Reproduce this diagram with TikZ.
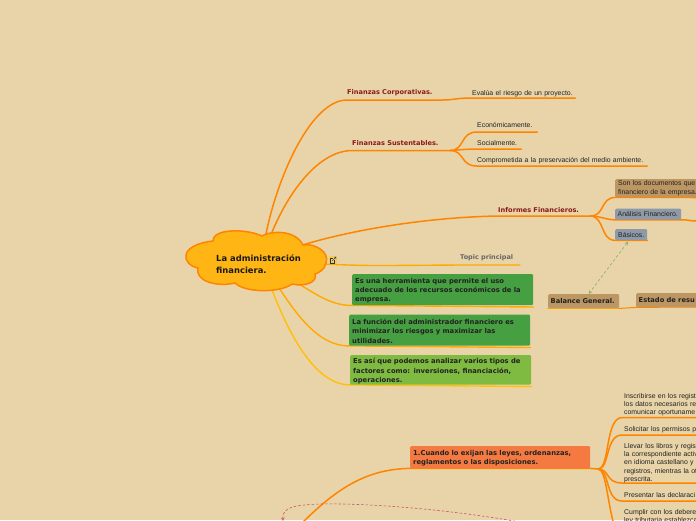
\documentclass[tikz,border=0pt]{standalone}
\usepackage{fontspec}
\setmainfont{Liberation Sans}
\newfontfamily\boxfont{DejaVu Sans}
\pgfdeclarelayer{bg}
\pgfsetlayers{bg,main}
\definecolor{paper}{HTML}{E8D4A8}
\definecolor{org}{HTML}{FF8500}
\definecolor{amber}{HTML}{FFAA00}
\definecolor{yel}{HTML}{FFC107}
\definecolor{cloudfill}{HTML}{FFB514}
\definecolor{titlered}{HTML}{8B1A1A}
\definecolor{inkc}{HTML}{222222}
\definecolor{grn}{HTML}{46A041}
\definecolor{lime}{HTML}{7FBB41}
\definecolor{tan}{HTML}{BC9663}
\definecolor{slate}{HTML}{8E9AA8}
\definecolor{coral}{HTML}{F47A42}
\definecolor{dashred}{HTML}{C9566B}
\definecolor{dashgreen}{HTML}{8FB56A}
\tikzset{
  x=1pt,y=-1pt,
  conn/.style={draw=org,line width=1.5pt,line cap=round},
  connam/.style={draw=amber,line width=1.4pt,line cap=round},
  connye/.style={draw=yel,line width=1.4pt,line cap=round},
  plainn/.style={anchor=south west,inner xsep=0pt,inner ysep=1.6pt,align=left,text=inkc,font=\fontsize{6.9}{8.2}\selectfont},
  heading/.style={anchor=south west,inner xsep=0pt,inner ysep=3.5pt,align=left,text=titlered,font=\boxfont\bfseries\fontsize{6.6}{9}\selectfont},
  colbox/.style={anchor=north west,rounded corners=1.2pt,inner xsep=3pt,inner ysep=0pt,align=left,text=inkc},
  bigbox/.style={colbox,font=\boxfont\bfseries\fontsize{6.8}{9.1}\selectfont,text height=7.5pt},
  smallbox/.style={colbox,font=\fontsize{6.9}{8.1}\selectfont},
  midbox/.style={colbox,inner xsep=2.5pt,font=\boxfont\bfseries\fontsize{6.7}{9}\selectfont}
}
\begin{document}
\begin{tikzpicture}
\useasboundingbox (0,0) rectangle (696,520);
\clip (0,0) rectangle (696,520);
% cloud
\filldraw[draw=org,fill=cloudfill,line width=1.5pt]
  (262,236) .. controls (270,231) and (295,229) .. (303,245)
  .. controls (315,243) and (330,252) .. (326,263)
  .. controls (325,270) and (318,273) .. (315,274)
  .. controls (318,282) and (305,287) .. (292,284)
  .. controls (280,293) and (245,293) .. (235,283)
  .. controls (218,287) and (195,282) .. (198,268)
  .. controls (182,265) and (177,245) .. (213,241)
  .. controls (212,229) and (245,228) .. (262,236) -- cycle;
\node[anchor=west,align=left,text=black!90,font=\boxfont\bfseries\fontsize{8.4}{11.7}\selectfont,inner sep=0pt] (root) at (216,264) {La administración\\financiera.};
\coordinate (rootc) at (262,262);
% link icon
\fill[yel!45!paper] (329,256) rectangle (337,264);
\draw[black!80,line width=.45pt] (334.5,260) -- (334.5,263) -- (330,263) -- (330,258.3) -- (332.5,258.3);
\draw[black!80,line width=.45pt] (332.3,260.8) -- (336,257.2) (334,257.2) -- (336,257.2) -- (336,259.2);
% first group
\node[heading,text width=95] (fc) at (347,100) {Finanzas Corporativas.};
\node[plainn,inner ysep=1.2pt,text width=103] (fc1) at (472,98) {Evalúa el riesgo de un proyecto.};
\node[heading,inner ysep=4.5pt,text width=98] (fs) at (352,150.5) {Finanzas Sustentables.};
\node[plainn,inner ysep=4pt,text width=60] (fs1) at (477,132) {Económicamente.};
\node[plainn,inner ysep=3.6pt,text width=44] (fs2) at (477,149) {Socialmente.};
\node[plainn,inner ysep=2.1pt,text width=170] (fs3) at (477,166) {Comprometida a la preservación del medio ambiente.};
\node[heading,text width=92] (inf) at (498,216) {Informes Financieros.};
\node[smallbox,fill=tan,minimum height=18,text width=90] (doc) at (615,179) {Son los documentos que\\financiero de la empresa.};
\node[smallbox,fill=slate,minimum height=11,inner xsep=2.5pt,text width=61] (ana) at (615,208.5) {Análisis Financiero.};
\node[smallbox,fill=slate,minimum height=11,text width=26] (bas) at (615,229) {Básicos.};
\node[anchor=south west,inner xsep=0pt,inner ysep=3.5pt,text=black!60,font=\boxfont\bfseries\fontsize{6.5}{9}\selectfont,text width=60] (top) at (460,265) {Topic principal};
\node[bigbox,fill=grn,minimum height=31,text width=175] (g1) at (352,274) {Es una herramienta que permite el uso\\adecuado de los recursos económicos de la\\empresa.};
\node[bigbox,fill=grn,minimum height=31,text width=175] (g2) at (349,314.5) {La función del administrador financiero es\\minimizar los riesgos y maximizar las\\utilidades.};
\node[bigbox,fill=lime,minimum height=29.5,text width=175] (g3) at (350,355) {Es así que podemos analizar varios tipos de\\factores como: inversiones, financiación,\\operaciones.};
\node[midbox,fill=tan,minimum height=14,text width=66] (bal) at (548,294) {Balance General.};
\node[midbox,fill=tan,minimum height=14,text width=90] (est) at (636,293) {Estado de resu};
\node[bigbox,fill=coral,minimum height=22,text width=174] (one) at (410,446) {1.Cuando lo exijan las leyes, ordenanzas,\\reglamentos o las disposiciones.};
\node[plainn,inner ysep=1.2pt,text width=80] (c1) at (624,417.5) {Inscribirse en los regist\\los datos necesarios re\\comunicar oportuname};
\node[plainn,text width=80] (c2) at (624,435) {Solicitar los permisos p};
\node[plainn,inner ysep=0pt,text width=80] (c3) at (624,483) {Llevar los libros y regist\\la correspondiente activ\\ en idioma castellano y\\registros, mientras la ot\\prescrita.};
\node[plainn,inner ysep=3.5pt,text width=80] (c4) at (624,501) {Presentar las declaraci};
\node[plainn,text width=80] (c5) at (624,526) {Cumplir con los debere\\ley tributaria establezca};
\begin{pgfonlayer}{bg}
\fill[paper] (0,0) rectangle (696,520);
\draw[conn] (rootc) .. controls (266,205) and (305,100) .. (fc.south west) -- (fc.south east) .. controls (455,100) and (455,98) .. (fc1.south west) -- (fc1.south east);
\draw[conn] (rootc) .. controls (274,215) and (310,151) .. (fs.south west) -- (fs.south east);
\draw[conn] (fs.south east) .. controls (465,150) and (460,132) .. (fs1.south west) -- (fs1.south east);
\draw[conn] (fs.south east) .. controls (460,150) and (465,149) .. (fs2.south west) -- (fs2.south east);
\draw[conn] (fs.south east) .. controls (465,151) and (460,166) .. (fs3.south west) -- (fs3.south east);
\draw[conn] (rootc) .. controls (285,245) and (390,218) .. (inf.south west) -- (inf.south east);
\draw[conn] (inf.south east) .. controls (605,216) and (600,198) .. (doc.south west) -- (696,197.5);
\draw[conn] (inf.south east) .. controls (600,216) and (605,219.5) .. (ana.south west) -- (ana.south east) .. controls (688,219.5) and (690,221) .. (696,221);
\draw[conn] (inf.south east) .. controls (605,217) and (600,240) .. (bas.south west) -- (bas.south east);
\draw[connam] (rootc) .. controls (300,262) and (340,266) .. (390,265.5) -- (top.south west) -- (520,265);
\draw[connam] (rootc) .. controls (305,285) and (325,306) .. (g1.south west) -- ([yshift=-1.6pt]g1.south east);
\draw[connam] (rootc) .. controls (285,295) and (310,346) .. (g2.south west) -- ([yshift=-1.6pt]g2.south east);
\draw[connye] (rootc) .. controls (275,300) and (305,385) .. (g3.south west) -- ([yshift=-1.6pt]g3.south east);
\draw[connam] (bal.south west) -- (bal.south east);
\draw[conn,line width=1pt] (bal.south east) -- (est.south west) -- (696,307);
\draw[conn] (300,525) .. controls (335,490) and (365,469) .. (one.south west) -- (one.south east) -- (598,469);
\coordinate (hub) at (598,469);
\draw[conn] (hub) .. controls (610,469) and (605,418) .. (622,417.5) -- (696,417.5);
\draw[conn] (hub) .. controls (610,469) and (605,435) .. (622,435) -- (696,435);
\draw[conn] (hub) .. controls (610,469) and (605,483) .. (622,483) -- (696,483);
\draw[conn] (hub) .. controls (610,469) and (605,501) .. (622,501) -- (696,501);
\draw[conn] (hub) .. controls (606,469) and (607,500) .. (614,525);
\end{pgfonlayer}
\draw[draw=dashgreen,line width=.7pt,<->,>=stealth,dash pattern=on 2.5pt off 2.5pt] ([xshift=-3pt,yshift=-1pt]bas.south) -- ([xshift=5pt]bal.north);
\draw[draw=dashred,line width=.6pt,->,>=stealth,dash pattern=on 2.5pt off 2pt] (520,522) .. controls (440,508) and (360,503) .. (320,504) .. controls (295,505) and (282,507) .. (283,521);
\end{tikzpicture}
\end{document}
